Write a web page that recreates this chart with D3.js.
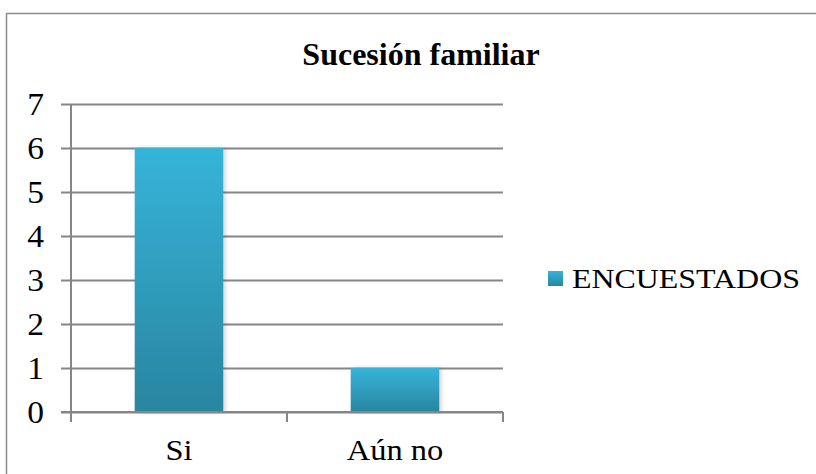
<!DOCTYPE html>
<html>
<head>
<meta charset="utf-8">
<script src="https://cdn.jsdelivr.net/npm/d3@7/dist/d3.min.js"></script>
<style>
  html, body { margin: 0; padding: 0; background: #fff; }
  svg text { font-family: 'Liberation Serif', 'Times New Roman', serif; fill: #000; }
</style>
</head>
<body>
<svg id="chart" width="816" height="474"></svg>
<script>
// Survey answers on family succession
const categories = ["Si", "Aún no"];
const values = [6, 1];
const seriesName = "ENCUESTADOS";
const yTicks = [0, 1, 2, 3, 4, 5, 6, 7];
const chartTitle = "Sucesión familiar";

const svg = d3.select("#chart");
const margin = { left: 71, right: 313, top: 104, bottom: 62 };
const W = 816, H = 474;
const plotW = W - margin.left - margin.right;
const plotH = H - margin.top - margin.bottom;
const GRID = "#868686";

// Gradient fill for the bars
const defs = svg.append("defs");
const grad = defs.append("linearGradient")
  .attr("id", "barGrad").attr("x1", 0).attr("y1", 0).attr("x2", 0).attr("y2", 1);
grad.append("stop").attr("offset", "0%").attr("stop-color", "#36b4d9");
grad.append("stop").attr("offset", "100%").attr("stop-color", "#2985a0");
const shadow = defs.append("filter").attr("id", "barShadow")
  .attr("x", "-20%").attr("y", "-10%").attr("width", "140%").attr("height", "120%");
shadow.append("feDropShadow").attr("dx", 2).attr("dy", 0).attr("stdDeviation", 2)
  .attr("flood-color", "#000").attr("flood-opacity", 0.18);

// Outer chart frame
svg.append("rect")
  .attr("x", 6.5).attr("y", 13.5).attr("width", 830).attr("height", 480)
  .attr("fill", "none").attr("stroke", "#8c8c8c").attr("stroke-width", 1.5);

// Title
svg.append("text")
  .attr("transform", "translate(421,65)")
  .attr("text-anchor", "middle")
  .attr("font-weight", "bold")
  .attr("font-size", 32)
  .text(chartTitle);

const g = svg.append("g").attr("transform", `translate(${margin.left},${margin.top})`);

const x = d3.scaleBand().domain(categories).range([0, plotW]).paddingInner(0.59).paddingOuter(0.295);
const xOuter = d3.scaleBand().domain(categories).range([0, plotW]);
const y = d3.scaleLinear().domain([0, 7]).range([plotH, 0]);

// Horizontal gridlines with left tick marks
const yAxis = d3.axisLeft(y).tickValues(yTicks).tickSize(-plotW).tickFormat(d3.format("d"));
const yg = g.append("g").call(yAxis);
yg.attr("font-family", null).attr("font-size", null);
yg.select(".domain").remove();
yg.selectAll(".tick line")
  .attr("x1", -10).attr("x2", plotW)
  .attr("stroke", GRID).attr("stroke-width", 2);
yg.selectAll(".tick text")
  .attr("x", 0)
  .attr("dy", "0.34em")
  .attr("transform", "translate(-27,0) scale(1.08,1)")
  .attr("font-size", 31)
  .attr("fill", "#000");

// Vertical axis line
g.append("line")
  .attr("x1", 0).attr("x2", 0).attr("y1", 0).attr("y2", plotH + 10)
  .attr("stroke", GRID).attr("stroke-width", 2);

// Category boundary ticks along the baseline
const boundaries = [0].concat(categories.map(c => xOuter(c) + xOuter.bandwidth()));
g.selectAll(".xb").data(boundaries).enter().append("line")
  .attr("x1", d => d).attr("x2", d => d)
  .attr("y1", plotH).attr("y2", plotH + 10)
  .attr("stroke", GRID).attr("stroke-width", 2);

// Bars
g.selectAll(".bar").data(values).enter().append("rect")
  .attr("class", "bar")
  .attr("x", (d, i) => x(categories[i]))
  .attr("y", d => y(d))
  .attr("width", x.bandwidth())
  .attr("height", d => y(0) - y(d))
  .attr("fill", "url(#barGrad)")
  .attr("filter", "url(#barShadow)");

// Baseline drawn over the bars
g.append("line")
  .attr("x1", -10).attr("x2", plotW).attr("y1", plotH).attr("y2", plotH)
  .attr("stroke", GRID).attr("stroke-width", 2);

// Category labels
g.selectAll(".xl").data(categories).enter().append("text")
  .attr("transform", d => `translate(${xOuter(d) + xOuter.bandwidth() / 2},${plotH + 48}) scale(1.08,1)`)
  .attr("text-anchor", "middle")
  .attr("font-size", 30)
  .text(d => d);

// Legend
const lg = svg.append("g").attr("transform", "translate(548,271)");
lg.append("rect").attr("width", 15).attr("height", 15).attr("fill", "url(#barGrad)");
lg.append("text")
  .attr("transform", "translate(24,17) scale(1.14,1)")
  .attr("font-size", 28)
  .text(seriesName);
</script>
</body>
</html>
